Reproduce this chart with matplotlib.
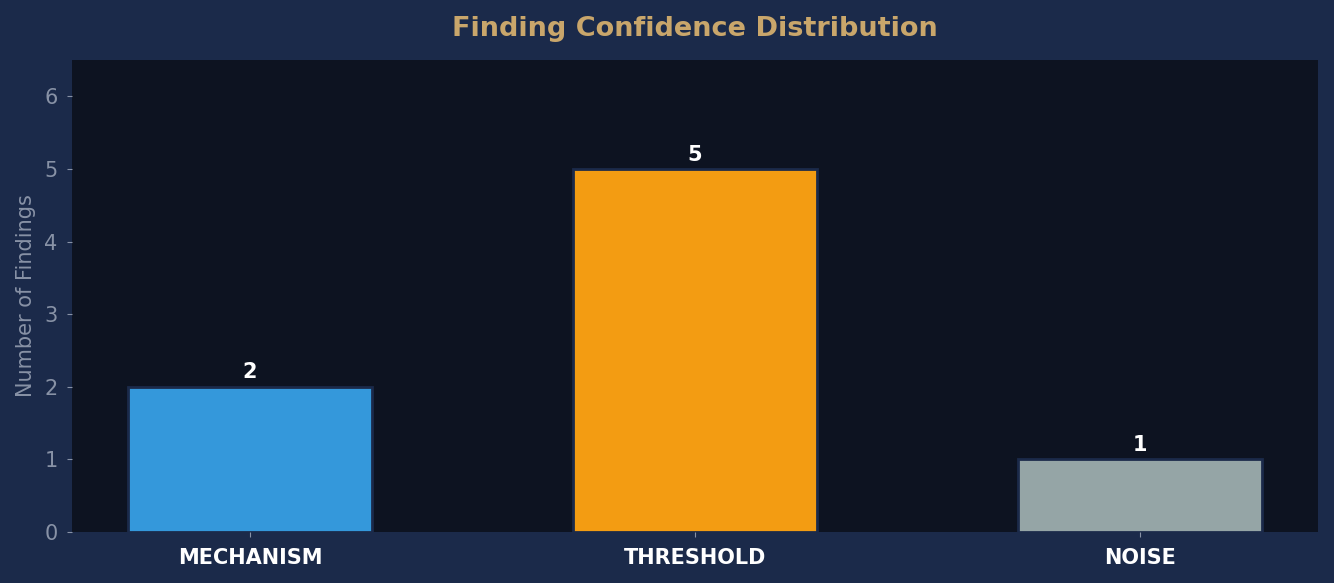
import matplotlib.pyplot as plt

categories = ['MECHANISM', 'THRESHOLD', 'NOISE']
counts = [2, 5, 1]
bar_colors = ['#3498db', '#f39c12', '#95a5a6']

FIG_BG = '#1b2a4a'
AX_BG = '#0d1321'

fig, ax = plt.subplots(figsize=(13.34, 5.83), dpi=100)
fig.patch.set_facecolor(FIG_BG)
ax.set_facecolor(AX_BG)
fig.subplots_adjust(left=0.054, right=0.988, top=0.897, bottom=0.0875)

x = range(len(categories))
bars = ax.bar(x, counts, width=0.55, color=bar_colors, edgecolor=FIG_BG, linewidth=2)

# value labels above each bar
for b, v in zip(bars, counts):
    ax.text(b.get_x() + b.get_width() / 2, v + 0.06, str(v), ha='center', va='bottom',
            color='white', fontsize=15, fontweight='bold')

ax.set_xticks(list(x))
ax.set_xticklabels(categories, color='white', fontsize=15, fontweight='bold')
ax.set_ylim(0, 6.5)
ax.set_xlim(-0.4, 2.4)
ax.tick_params(axis='y', colors='#8892a6', labelsize=15, pad=7)
ax.tick_params(axis='x', colors='#8892a6', pad=8)
for t in ax.get_xticklabels():
    t.set_color('white')
ax.set_ylabel('Number of Findings', color='#8892a6', fontsize=15, labelpad=6)
ax.set_title('Finding Confidence Distribution', color='#c9a66b', fontsize=19.5,
             fontweight='bold', pad=17)
for s in ax.spines.values():
    s.set_visible(False)

plt.savefig('out.png', facecolor=FIG_BG)
